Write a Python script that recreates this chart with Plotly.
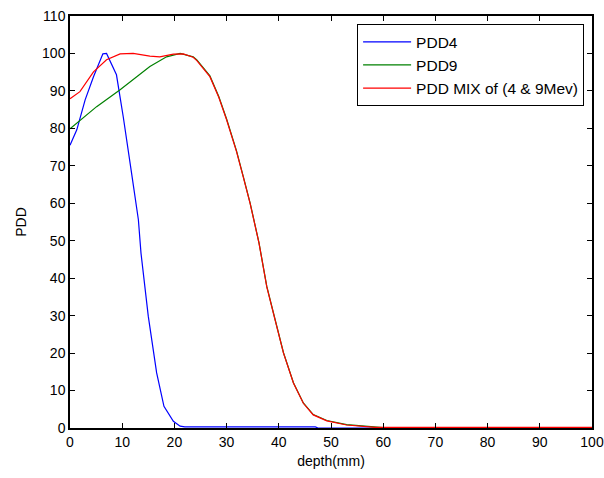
import plotly.graph_objects as go

# ── data (depth in mm, PDD in %) ────────────────────────────────────
pdd4_x = [0, 1.3, 2.9, 4.5, 6.3, 7.0, 8.9, 10.2, 11.8, 13.1, 13.6, 15.0, 16.6,
          18.0, 19.8, 21.1, 22.0, 30, 40, 47, 47.5, 60, 80, 100]
pdd4_y = [75.5, 79.6, 87.6, 93.8, 99.9, 100, 94.3, 83.1, 68.0, 55.6, 46.7, 29.8, 14.7,
          5.8, 1.8, 0.5, 0.3, 0.3, 0.3, 0.3, 0, 0, 0, 0]

pdd9_x = [0, 5.1, 9.6, 15.3, 18.5, 21.1, 23.6, 24.3, 26.8, 28.5, 30.0, 31.9, 33.2,
          34.5, 36.2, 37.7, 39.3, 40.9, 42.8, 44.7, 46.6, 49.2, 53.0, 57.5, 60, 100]
pdd9_y = [79.9, 85.8, 90.3, 96.5, 99.1, 100, 99.1, 98.3, 94.0, 88.5, 82.5, 74.0, 67.1,
          60.1, 49.5, 37.8, 28.9, 20.1, 12.1, 6.7, 3.6, 2.0, 0.9, 0.3, 0.1, 0.1]

mix_x = [0, 1.9, 4.5, 7.0, 9.6, 12.1, 15.3, 17.2, 19.8, 21.7, 23.6, 24.3, 26.8,
         28.5, 30.0, 31.9, 33.2, 34.5, 36.2, 37.7, 39.3, 40.9, 42.8, 44.7, 46.6,
         49.2, 53.0, 57.5, 58.5, 100]
mix_y = [87.9, 89.8, 95.1, 98.3, 99.9, 100, 99.3, 99.1, 99.8, 99.9, 99.0, 98.1, 93.8,
         88.3, 82.3, 73.8, 67.0, 60.0, 49.4, 37.7, 28.8, 20.0, 12.0, 6.6, 3.5,
         1.9, 0.8, 0.3, 0.15, 0.15]

x_ticks = list(range(0, 101, 10))
y_ticks = list(range(0, 111, 10))

FONT = "Liberation Sans, Arial, sans-serif"

fig = go.Figure()
for xs, ys, name, color in [
    (pdd4_x, pdd4_y, "PDD4", "#0000FF"),
    (pdd9_x, pdd9_y, "PDD9", "#008000"),
    (mix_x, mix_y, "PDD MIX of (4 & 9Mev)", "#FF0000"),
]:
    fig.add_trace(go.Scatter(x=xs, y=ys, mode="lines", name=name,
                             line=dict(color=color, width=1.2)))

axis_style = dict(
    showgrid=False, zeroline=False, automargin=False,
    showline=True, linecolor="black", linewidth=1.5, mirror="allticks",
    ticks="inside", ticklen=5, tickcolor="black", tickwidth=1,
    tickfont=dict(size=14, color="black", family=FONT),
)

fig.update_layout(
    width=604, height=478,
    margin=dict(l=70, r=12, t=16, b=50),
    paper_bgcolor="white", plot_bgcolor="white",
    font=dict(family=FONT, size=14, color="black"),
    xaxis=dict(range=[0, 100], tickvals=x_ticks,
               title=dict(text="depth(mm)", standoff=8,
                          font=dict(size=14, family=FONT)),
               **axis_style),
    yaxis=dict(range=[0, 110], tickvals=y_ticks,
               title=dict(text="PDD", standoff=12,
                          font=dict(size=14, family=FONT)),
               **axis_style),
    legend=dict(x=0.55, y=0.98, xanchor="left", yanchor="top",
                bgcolor="white", bordercolor="black", borderwidth=1,
                font=dict(size=15.5, family=FONT), itemwidth=48,
                tracegroupgap=0),
    showlegend=True,
)

# drop the default 8px page margin so the figure sits at the window corner
fig.write_html("out.html", config={"displayModeBar": False},
               post_script="document.body.style.margin='0';")
